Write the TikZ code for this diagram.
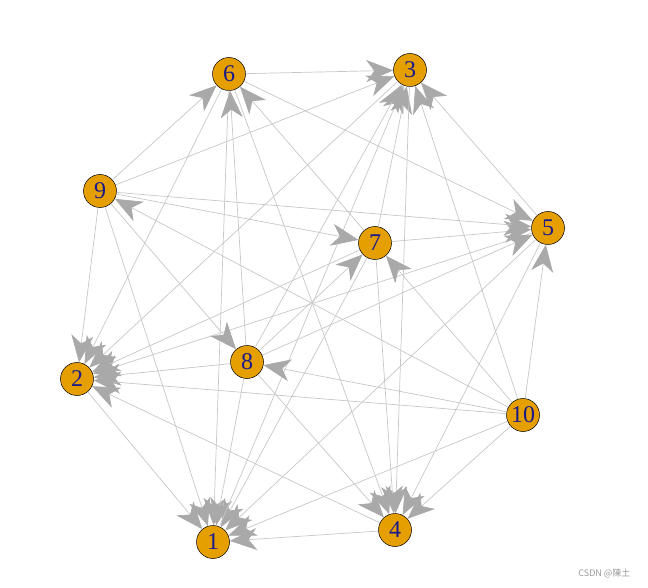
\documentclass[tikz,border=0pt]{standalone}
\usepackage{fontspec}
\setmainfont{Liberation Serif}
\newfontfamily\cjkfont{Noto Sans CJK SC}
\usetikzlibrary{arrows.meta}

\definecolor{vorange}{HTML}{E69F00}
\definecolor{vlabel}{HTML}{1A1A8B}
\definecolor{egray}{HTML}{A9A9A9}

\begin{document}
\begin{tikzpicture}[
    x=1pt,
    y=-1pt,
    vertex/.style={
        circle,
        draw=black,
        fill=vorange,
        line width=0.5pt,
        minimum size=33pt,
        inner sep=0pt,
        text=vlabel,
        font=\fontsize{24}{26}\selectfont
    },
    edge/.style={
        -{Stealth[length=27pt,width=22pt,inset=8pt,color=egray]},
        draw=egray!65,
        line width=0.7pt
    },
    watermark/.style={
        font=\cjkfont\fontsize{9}{11}\selectfont,
        text=gray!80
    }
]
\useasboundingbox (0,0) rectangle (648,588);

% --- Vertices ---
\node[vertex] (n1) at (213,542) {1};
\node[vertex] (n2) at (77,379) {2};
\node[vertex] (n3) at (410,70) {3};
\node[vertex] (n4) at (395,530) {4};
\node[vertex] (n5) at (548,228) {5};
\node[vertex] (n6) at (229,74) {6};
\node[vertex] (n7) at (375,243) {7};
\node[vertex] (n8) at (247,362) {8};
\node[vertex] (n9) at (100,191) {9};
\node[vertex] (n10) at (523,415) {10};

% --- Edges into 1 ---
\draw[edge] (n2) -- (n1);
\draw[edge] (n4) -- (n1);
\draw[edge] (n5) -- (n1);
\draw[edge] (n6) -- (n1);
\draw[edge] (n7) -- (n1);
\draw[edge] (n8) -- (n1);
\draw[edge] (n9) -- (n1);
\draw[edge] (n10) -- (n1);

% --- Edges into 2 ---
\draw[edge] (n3) -- (n2);
\draw[edge] (n4) -- (n2);
\draw[edge] (n5) -- (n2);
\draw[edge] (n6) -- (n2);
\draw[edge] (n7) -- (n2);
\draw[edge] (n8) -- (n2);
\draw[edge] (n9) -- (n2);
\draw[edge] (n10) -- (n2);

% --- Edges into 3 ---
\draw[edge] (n1) -- (n3);
\draw[edge] (n5) -- (n3);
\draw[edge] (n6) -- (n3);
\draw[edge] (n7) -- (n3);
\draw[edge] (n8) -- (n3);
\draw[edge] (n9) -- (n3);
\draw[edge] (n10) -- (n3);

% --- Edges into 4 ---
\draw[edge] (n3) -- (n4);
\draw[edge] (n5) -- (n4);
\draw[edge] (n6) -- (n4);
\draw[edge] (n7) -- (n4);
\draw[edge] (n8) -- (n4);
\draw[edge] (n10) -- (n4);

% --- Edges into 5 ---
\draw[edge] (n6) -- (n5);
\draw[edge] (n7) -- (n5);
\draw[edge] (n8) -- (n5);
\draw[edge] (n9) -- (n5);
\draw[edge] (n10) -- (n5);

% --- Edges into 6, 7, 8, 9 ---
\draw[edge] (n7) -- (n6);
\draw[edge] (n8) -- (n6);
\draw[edge] (n9) -- (n6);
\draw[edge] (n8) -- (n7);
\draw[edge] (n9) -- (n7);
\draw[edge] (n10) -- (n7);
\draw[edge] (n9) -- (n8);
\draw[edge] (n10) -- (n8);
\draw[edge] (n10) -- (n9);

% --- Watermark ---
\node[watermark, anchor=east] (wm) at (634,573) {CSDN @陳土};

\end{tikzpicture}
\end{document}
